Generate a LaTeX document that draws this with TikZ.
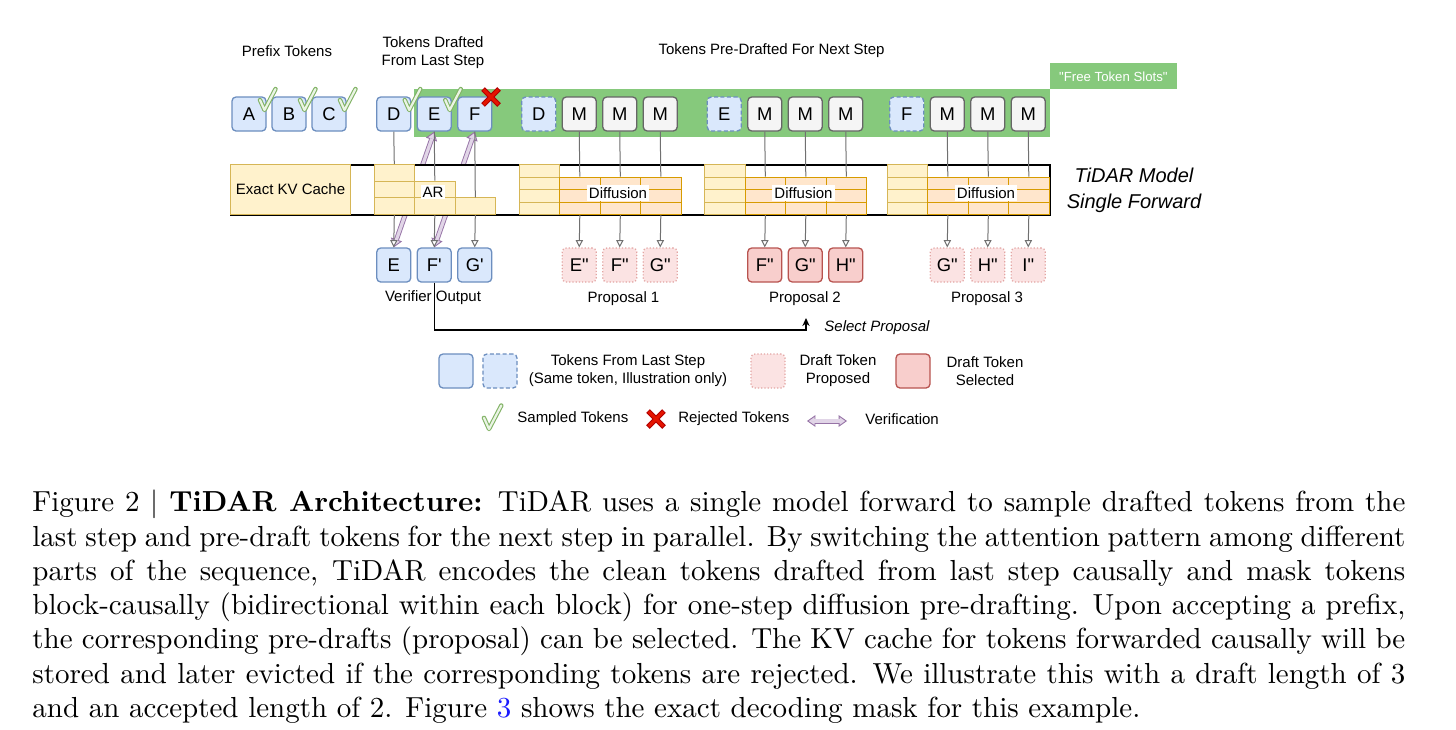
\documentclass[tikz,border=0pt]{standalone}
\usepackage{fontspec}
\setmainfont{Liberation Sans}[Ligatures=TeXOff]
\newfontfamily\capfont{lmroman10}[Extension=.otf, UprightFont=*-regular, BoldFont=*-bold]
\usetikzlibrary{arrows.meta}
\definecolor{tokfill}{HTML}{DAE8FC}
\definecolor{tokline}{HTML}{6C8EBF}
\definecolor{mfill}{HTML}{F5F5F5}
\definecolor{mline}{HTML}{666666}
\definecolor{propfill}{HTML}{FBE3E3}
\definecolor{propline}{HTML}{E3A5A3}
\definecolor{selfill}{HTML}{F8CECC}
\definecolor{selline}{HTML}{B85450}
\definecolor{gband}{HTML}{86C97C}
\definecolor{yfill}{HTML}{FFF2CC}
\definecolor{yline}{HTML}{D6B656}
\definecolor{ofill}{HTML}{FFE6CC}
\definecolor{oline}{HTML}{D79B00}
\definecolor{conncol}{HTML}{707070}
\definecolor{vline}{HTML}{9673A6}
\definecolor{vfill}{HTML}{E1D5E7}
\definecolor{chkline}{HTML}{82B366}
\definecolor{chkfill}{HTML}{EAF4E4}
\definecolor{xdark}{HTML}{B20000}
\definecolor{xred}{HTML}{E51400}
\definecolor{linkblue}{HTML}{1A1AFF}
\begin{document}
\begin{tikzpicture}[x=0.5pt, y=-0.5pt,
  tok/.style={draw=tokline, fill=tokfill, rounded corners=2pt, minimum width=17pt, minimum height=17pt, inner sep=0pt, line width=0.65pt, font=\fontsize{9.2}{11}\selectfont},
  tokd/.style={tok, dash pattern=on 2pt off 1.2pt},
  mtok/.style={tok, draw=mline, fill=mfill},
  prop/.style={tok, draw=propline, fill=propfill, dash pattern=on 0.6pt off 1pt},
  sel/.style={tok, draw=selline, fill=selfill},
  ycell/.style={draw=yline, fill=yfill, line width=0.55pt, inner sep=0pt, minimum width=20.25pt, anchor=north west},
  ocell/.style={draw=oline, fill=ofill, line width=0.55pt, inner sep=0pt, minimum width=20.25pt, minimum height=6.25pt, anchor=north west},
  lbl/.style={font=\fontsize{7.5}{9}\selectfont, inner sep=0pt, align=center},
  conn/.style={draw=conncol, line width=0.5pt},
  darr/.style={conn, -{Triangle[fill=white, length=3.6pt, width=3.6pt, line width=0.5pt]}},
  verif/.style={draw=vline, line width=2.5pt,
    {Triangle[fill=vfill, length=4.2pt, width=5.8pt, line width=0.45pt]}-{Triangle[fill=vfill, length=4.2pt, width=5.8pt, line width=0.45pt]},
    postaction={draw=vfill, line width=1.6pt, arrows=-, shorten <=3.7pt, shorten >=3.7pt}},
  selarr/.style={draw=black, line width=0.75pt, -{Stealth[length=4pt, width=3.6pt]}},
  captxt/.style={font=\capfont\fontsize{14.5}{17}\selectfont, inner sep=0pt, anchor=base west},
  chk/.pic={
    \draw[chkline, line width=2.2pt, line cap=round, line join=round] (-4.5,-10) -- (0,0) -- (11,-21);
    \draw[chkfill, line width=1.1pt, line cap=round, line join=round] (-4.5,-10) -- (0,0) -- (11,-21);},
  xmark/.pic={
    \draw[xdark, line width=2.6pt] (-8,-8) -- (8,8) (-8,8) -- (8,-8);
    \draw[xred, line width=1.5pt, shorten <=0.5pt, shorten >=0.5pt] (-8,-8) -- (8,8);
    \draw[xred, line width=1.5pt, shorten <=0.5pt, shorten >=0.5pt] (-8,8) -- (8,-8);}
]
\useasboundingbox (0,0) rectangle (1456,729);
\fill[white] (0,0) rectangle (1456,729);

% green slot band
\node[fill=gband, minimum width=317.75pt, minimum height=24pt, inner sep=0pt, anchor=north west] (greenband) at (414,89) {};
\node[fill=gband, text=white, font=\fontsize{6.6}{8}\selectfont, minimum width=63.5pt, minimum height=13pt, inner sep=0pt, anchor=north west] (free) at (1049.5,63) {"Free Token Slots"};

% top labels
\node[lbl] (lpre) at (287,51) {Prefix Tokens};
\node[lbl] (ldraft) at (433,53) {Tokens Drafted\\From Last Step};
\node[lbl] (lnext) at (771.5,51) {Tokens Pre-Drafted For Next Step};

% prefix and drafted tokens
\node[tok] (tA) at (249,114) {A};
\node[tok] (tB) at (289,114) {B};
\node[tok] (tC) at (329,114) {C};
\node[tok] (tD) at (393.75,114) {D};
\node[tok] (tE) at (434.25,114) {E};
\node[tok] (tF) at (474.75,114) {F};

% verifier outputs
\node[tok] (oE) at (393.75,265) {E};
\node[tok] (oF) at (434.25,265) {F'};
\node[tok] (oG) at (474.75,265) {G'};
\node[lbl] (lver) at (433,298) {Verifier Output};

% pre-drafted tokens and proposals
\foreach \b/\x/\l/\pa/\pb/\pc/\ps/\pl in {1/518.5/D/E/F/G/prop/105, 2/704/E/F/G/H/sel/101, 3/886.5/F/G/H/I/prop/100.5} {
  \node[tokd] (pd\b) at ({\x+20.25},114) {\l};
  \node[mtok] (m\b1) at ({\x+60.75},114) {M};
  \node[mtok] (m\b2) at ({\x+101.25},114) {M};
  \node[mtok] (m\b3) at ({\x+141.75},114) {M};
  \node[\ps] (p\b1) at ({\x+60.75},265) {\pa"};
  \node[\ps] (p\b2) at ({\x+101.25},265) {\pb"};
  \node[\ps] (p\b3) at ({\x+141.75},265) {\pc"};
  \node[lbl] (lp\b) at ({\x+\pl},299) {Proposal \b};
}

% verification arrows (behind the model band)
\draw[verif] (oE.north) -- (tE.south);
\draw[verif] (oF.north) -- (tF.south);

% model band
\node[draw=black, fill=white, line width=1pt, minimum width=409.25pt, minimum height=25pt, inner sep=0pt, anchor=north west] (band) at (230,164) {};
\node[ycell, minimum width=60pt, minimum height=25pt, font=\fontsize{7.5}{9}\selectfont] (kv) at (230,164) {Exact KV Cache};

% AR block
\node[ycell, minimum height=8.333pt] (ar11) at (373.5,164) {};
\node[ycell, minimum height=8.333pt] (ar12) at (373.5,180.67) {};
\node[ycell, minimum height=8.333pt] (ar13) at (373.5,197.33) {};
\node[ycell, minimum height=8.333pt] (ar22) at (414,180.67) {};
\node[ycell, minimum height=8.333pt] (ar23) at (414,197.33) {};
\node[ycell, minimum height=8.333pt] (ar33) at (454.5,197.33) {};
\node[lbl, fill=white, inner sep=1pt] (lar) at (433,192) {AR};

% diffusion blocks
\foreach \b/\x in {1/518.5, 2/704, 3/886.5} {
  \foreach \r in {1,2,3,4}
    \node[ycell, minimum height=6.25pt] (y\b\r) at (\x,{164+12.5*(\r-1)}) {};
  \foreach \c in {1,2,3} {
    \foreach \r in {1,2,3}
      \node[ocell] (o\b\c\r) at ({\x+40.5*\c},{176.5+12.5*(\r-1)}) {};
  }
  \node[lbl, fill=white, inner sep=1pt] (ld\b) at ({\x+99.5},193) {Diffusion};
  \foreach \c in {1,2,3} {
    \draw[conn] (m\b\c.south) -- (o\b\c1.north);
    \draw[darr] (o\b\c3.south) -- (p\b\c.north);
  }
}

% AR connectors
\draw[conn] (tD.south) -- (ar11.north);
\draw[conn] (tE.south) -- (ar22.north);
\draw[conn] (tF.south) -- (ar33.north);
\draw[darr] (ar13.south) -- (oE.north);
\draw[darr] (ar23.south) -- (oF.north);
\draw[darr] (ar33.south) -- (oG.north);

% model label
\node[font=\fontsize{10}{13}\selectfont\itshape, align=center, inner sep=0pt] (tidar) at (1134,190) {TiDAR Model\\Single Forward};

% select proposal
\coordinate (selturn) at (806,330);
\coordinate (seltip) at (806,318);
\draw[selarr] (oF.south) |- (selturn) -- (seltip);
\node[lbl, font=\fontsize{7.5}{9}\selectfont\itshape, anchor=west] (lsel) at (824,328) {Select Proposal};

% checks and reject mark
\pic at (264.5,110) {chk};
\pic at (304.5,110) {chk};
\pic at (344.5,110) {chk};
\pic at (409.25,110) {chk};
\pic at (449.75,110) {chk};
\pic at (491,97) {xmark};

% legend
\node[tok] (lgA) at (456,371) {};
\node[tokd] (lgB) at (500,371) {};
\node[lbl] (lgt1) at (628,371) {Tokens From Last Step\\(Same token, Illustration only)};
\node[prop] (lgC) at (768,371) {};
\node[lbl] (lgt2) at (838,371) {Draft Token\\Proposed};
\node[sel] (lgD) at (913,371) {};
\node[lbl] (lgt3) at (985,371) {Draft Token\\Selected};
\pic[scale=1.12] at (489,429) {chk};
\node[lbl, anchor=west] (lgt4) at (517,419) {Sampled Tokens};
\pic at (656,419) {xmark};
\node[lbl, anchor=west] (lgt5) at (678,419) {Rejected Tokens};
\coordinate (va) at (807,421);
\coordinate (vb) at (847,421);
\draw[verif] (va) -- (vb);
\node[lbl, anchor=west] (lgt6) at (865,419) {Verification};

% caption
\node[captxt] (cap1) at (32,511.7) {\makebox[686.5pt][s]{Figure 2 $|$ \textbf{TiDAR Architecture:} TiDAR uses a single model forward to sample drafted tokens from the}};
\node[captxt] (cap2) at (32,546) {\makebox[686.5pt][s]{last step and pre-draft tokens for the next step in parallel. By switching the attention pattern among different}};
\node[captxt] (cap3) at (32,580.3) {\makebox[686.5pt][s]{parts of the sequence, TiDAR encodes the clean tokens drafted from last step causally and mask tokens}};
\node[captxt] (cap4) at (32,614.6) {\makebox[686.5pt][s]{block-causally (bidirectional within each block) for one-step diffusion pre-drafting. Upon accepting a prefix,}};
\node[captxt] (cap5) at (32,648.9) {\makebox[686.5pt][s]{the corresponding pre-drafts (proposal) can be selected. The KV cache for tokens forwarded causally will be}};
\node[captxt] (cap6) at (32,683.2) {\makebox[686.5pt][s]{stored and later evicted if the corresponding tokens are rejected. We illustrate this with a draft length of 3}};
\node[captxt] (cap7) at (32,717.5) {\makebox[686.5pt][l]{and an accepted length of 2. Figure \textcolor{linkblue}{3} shows the exact decoding mask for this example.}};
\end{tikzpicture}
\end{document}
